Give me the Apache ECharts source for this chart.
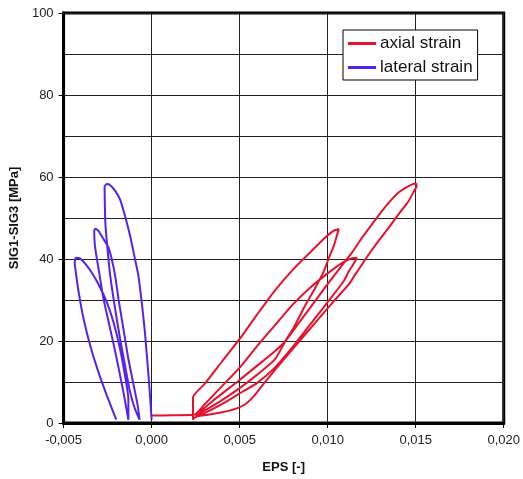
<!DOCTYPE html>
<html>
<head>
<meta charset="utf-8">
<script src="https://cdn.jsdelivr.net/npm/echarts@6/dist/echarts.min.js"></script>
<style>
  html, body { margin: 0; padding: 0; background: #fff; }
  #chart { width: 523px; height: 479px; }
</style>
</head>
<body>
<div id="chart"></div>
<script>
// x ticks every 0,005 from -0,005 to 0,020 ; y ticks every 20 (grid every 10)
const xTicks = [-0.005, 0.0, 0.005, 0.01, 0.015, 0.02];
const yTicks = [0, 20, 40, 60, 80, 100];

// axial strain, traced branch by branch [eps, sig]
const axialStart = [[0.0, 1.8], [0.0012, 1.9], [0.0024, 2.0]];
const axialLoadA = [[0.003, 4.5], [0.004, 9.0], [0.005, 13.5], [0.006, 18.8], [0.007, 23.8], [0.008, 28.8], [0.009, 33.0], [0.010, 36.5], [0.0108, 39.0], [0.0114, 40.2], [0.01165, 40.3]];
const axialUnloadA = [[0.0115, 39.0], [0.0112, 37.0], [0.0109, 34.5], [0.010, 29.5], [0.009, 24.0], [0.008, 18.5], [0.007, 13.5], [0.006, 9.8], [0.005, 7.2], [0.004, 4.6], [0.003, 2.4], [0.0024, 1.2]];
const axialJump = [[0.00235, 0.8], [0.00235, 6.2]];
const axialLoadB = [[0.003, 9.5], [0.004, 15.0], [0.005, 20.5], [0.006, 26.5], [0.007, 32.3], [0.008, 37.3], [0.009, 41.6], [0.0098, 45.0], [0.0103, 46.8], [0.01063, 47.3]];
const axialUnloadB = [[0.01054, 46.0], [0.01035, 43.2], [0.01007, 40.3], [0.00979, 37.1], [0.0093, 33.0], [0.0087, 28.5], [0.0081, 23.5], [0.0076, 20.0], [0.007, 15.5], [0.006, 11.8], [0.005, 8.5], [0.004, 5.6], [0.003, 3.0], [0.0025, 1.8]];
const axialLoadC = [[0.0035, 5.5], [0.005, 10.5], [0.006, 14.0], [0.007, 17.5], [0.0076, 20.0], [0.0085, 25.2], [0.0095, 31.0], [0.0103, 35.6], [0.011, 39.5], [0.01139, 41.6], [0.01195, 45.2], [0.01252, 48.5], [0.01308, 51.7], [0.01355, 54.1], [0.01402, 56.2], [0.01459, 57.8], [0.015, 58.4]];
const axialUnloadC = [[0.01505, 57.6], [0.01496, 57.0], [0.01459, 54.1], [0.01402, 50.9], [0.01346, 47.6], [0.01289, 44.4], [0.01233, 41.1], [0.01195, 38.7], [0.01158, 36.3], [0.0112, 33.8], [0.0103, 29.5], [0.0093, 24.5], [0.0084, 20.0], [0.0074, 15.0], [0.0065, 10.3], [0.0058, 6.5], [0.0053, 4.5], [0.0048, 3.5], [0.004, 2.6], [0.0032, 2.0], [0.0025, 1.6]];

// lateral strain loops, peak 58 -> 47 -> 40
const lateralUp3 = [[0.0, 0.8], [-0.00008, 6.0], [-0.00019, 12.3], [-0.0003, 18.0], [-0.00038, 22.1], [-0.00056, 29.4], [-0.00075, 35.9], [-0.00094, 39.9], [-0.00122, 45.6], [-0.00151, 50.5], [-0.00179, 54.5], [-0.00207, 56.6], [-0.00235, 58.0], [-0.00255, 58.3]];
const lateralDown3 = [[-0.00267, 57.6], [-0.00266, 54.0], [-0.00263, 49.0], [-0.00254, 44.0], [-0.00235, 35.9], [-0.00207, 27.8], [-0.00179, 20.5], [-0.00151, 14.0], [-0.00122, 7.5], [-0.00095, 3.5], [-0.00068, 0.8]];
const lateralUp2 = [[-0.0008, 4.5], [-0.00094, 7.5], [-0.00132, 15.6], [-0.0016, 22.9], [-0.00188, 30.2], [-0.00207, 35.9], [-0.00226, 39.9], [-0.00245, 42.8], [-0.00273, 44.8], [-0.00301, 46.8], [-0.0032, 47.4]];
const lateralDown2 = [[-0.00326, 46.8], [-0.00322, 43.2], [-0.00301, 37.5], [-0.00273, 30.2], [-0.00235, 22.9], [-0.00198, 15.6], [-0.0016, 7.5], [-0.00132, 0.8]];
const lateralUp1 = [[-0.00132, 5.8], [-0.00151, 11.5], [-0.00179, 18.0], [-0.00216, 24.5], [-0.00254, 29.4], [-0.00292, 33.0], [-0.00329, 35.9], [-0.00367, 38.3], [-0.00405, 40.1], [-0.0043, 40.3]];
const lateralDown1 = [[-0.00437, 39.0], [-0.00433, 37.5], [-0.00414, 31.8], [-0.00386, 25.3], [-0.00348, 18.8], [-0.00301, 12.3], [-0.00254, 6.7], [-0.00201, 0.8]];

const axial = [].concat(axialStart, axialLoadA, axialUnloadA, axialJump, axialLoadB, axialUnloadB, axialLoadC, axialUnloadC);
const lateral = [].concat(lateralUp3, lateralDown3, lateralUp2, lateralDown2, lateralUp1, lateralDown1);

const FONT = "Liberation Sans, Arial, sans-serif";
const fmtX = (v) => (Math.round(v * 1000) / 1000).toFixed(3).replace(".", ",");

const chart = echarts.init(document.getElementById("chart"), null, { renderer: "canvas" });
chart.setOption({
  backgroundColor: "#fff",
  animation: false,
  grid: {
    left: 63, top: 13, right: 17, bottom: 55,
    show: true, borderColor: "#000", borderWidth: 3,
  },
  legend: {
    orient: "vertical",
    left: 343, top: 30,
    padding: [5, 5, 4, 5],
    itemGap: 7, itemWidth: 28, itemHeight: 3,
    icon: "rect",
    backgroundColor: "#fff", borderColor: "#000", borderWidth: 1,
    textStyle: { fontFamily: FONT, fontSize: 17, color: "#111", padding: [0, 0, 0, -1] },
    data: ["axial strain", "lateral strain"],
  },
  xAxis: {
    type: "value",
    min: xTicks[0], max: xTicks[xTicks.length - 1], interval: 0.005,
    name: "EPS [-]", nameLocation: "middle", nameGap: 38,
    nameTextStyle: { fontFamily: FONT, fontSize: 13, fontWeight: "bold", color: "#111" },
    axisLine: { show: true, onZero: false, lineStyle: { color: "#000", width: 3 } },
    axisTick: { show: true, length: 5, lineStyle: { color: "#000" } },
    axisLabel: { fontFamily: FONT, fontSize: 13, color: "#222", margin: 11, formatter: fmtX },
    splitLine: { show: true, lineStyle: { color: "#222", width: 1 } },
  },
  yAxis: {
    type: "value",
    min: yTicks[0], max: yTicks[yTicks.length - 1], interval: 20,
    name: "SIG1-SIG3 [MPa]", nameLocation: "middle", nameGap: 37,
    nameTextStyle: { fontFamily: FONT, fontSize: 13, fontWeight: "bold", color: "#111" },
    axisLine: { show: true, onZero: false, lineStyle: { color: "#000", width: 3 } },
    axisTick: { show: true, length: 5, lineStyle: { color: "#000" } },
    axisLabel: { fontFamily: FONT, fontSize: 13, color: "#222", margin: 10 },
    splitLine: { show: true, lineStyle: { color: "#222", width: 1 } },
    minorTick: { show: false, splitNumber: 2 },
    minorSplitLine: { show: true, lineStyle: { color: "#222", width: 1 } },
  },
  series: [
    {
      name: "axial strain", type: "line", data: axial,
      symbol: "none", smooth: 0.2,
      lineStyle: { color: "#e8112d", width: 2 }, itemStyle: { color: "#e8112d" },
    },
    {
      name: "lateral strain", type: "line", data: lateral,
      symbol: "none", smooth: 0.2,
      lineStyle: { color: "#5522ee", width: 2 }, itemStyle: { color: "#5522ee" },
    },
  ],
});
</script>
</body>
</html>
